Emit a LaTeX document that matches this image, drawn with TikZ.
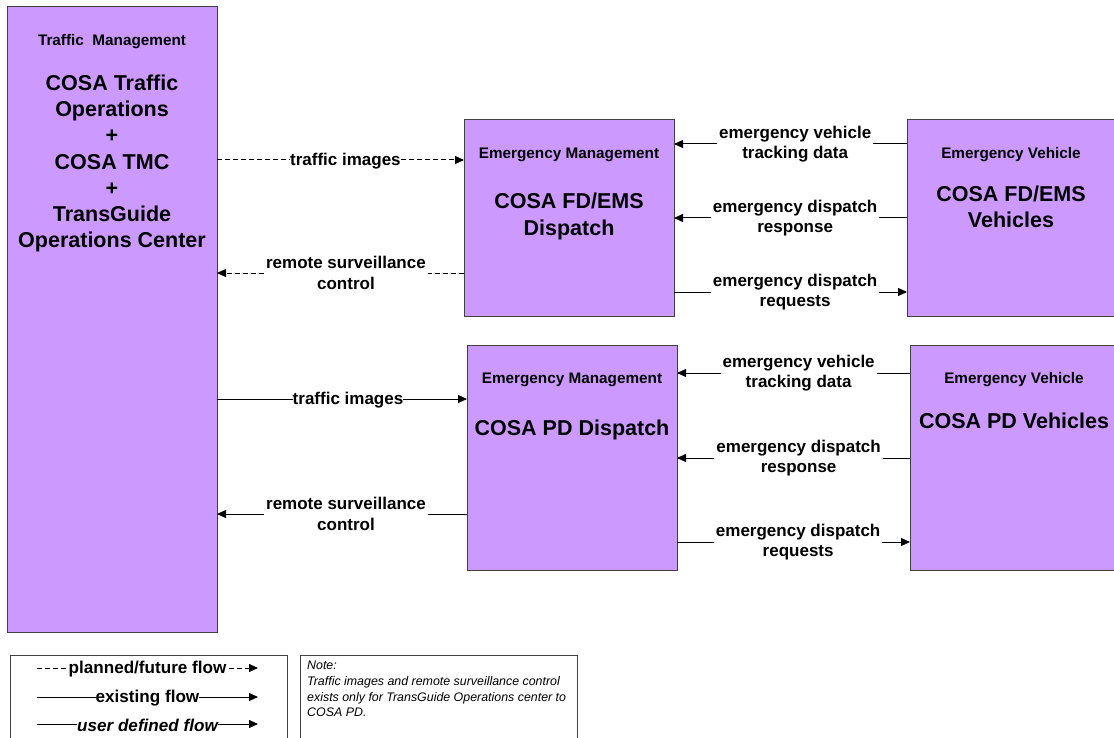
\documentclass[tikz,border=0pt]{standalone}
\usepackage{fontspec}
\setmainfont{Liberation Sans}
\usetikzlibrary{arrows.meta}
\definecolor{boxfill}{HTML}{CC99FF}
\definecolor{boxline}{HTML}{404040}
\newcommand{\lblfont}{\fontsize{17}{20.5}\selectfont\bfseries}
\newcommand{\legfont}{\fontsize{17.1}{19}\selectfont\bfseries}
\newcommand{\bigfont}{\fontsize{21.5}{26.3}\selectfont\bfseries}
\newcommand{\ttlfont}{\fontsize{15.3}{18}\selectfont\bfseries}
\newcommand{\notefont}{\fontsize{12.4}{15.7}\selectfont\itshape}
\begin{document}
\begin{tikzpicture}[x=1pt,y=-1pt,
  box/.style={draw=boxline,fill=boxfill,line width=1pt,inner sep=0pt,outer sep=0pt,anchor=north west},
  wbox/.style={draw=boxline,fill=white,line width=0.8pt,inner sep=0pt,outer sep=0pt,anchor=north west},
  arr/.style={line width=1pt,-{Triangle[length=9pt,width=8pt]}},
  plan/.style={arr,dash pattern=on 5pt off 3pt},
  lab/.style={fill=white,font=\lblfont,align=center,inner xsep=2pt,inner ysep=1pt},
  tight/.style={lab,inner xsep=0pt,yshift=-1.5pt},
  ttl/.style={font=\ttlfont,inner sep=0pt,yshift=-2pt},
  big/.style={font=\bigfont,align=center,inner sep=0pt,yshift=-2.5pt}]
\useasboundingbox (0,0) rectangle (1114,738);
\fill[white] (0,0) rectangle (1114,738);

% boxes
\node[box,minimum width=210pt,minimum height=625pt] (tm) at (7,7) {};
\node[box,minimum width=210pt,minimum height=196pt] (fdd) at (464,120) {};
\node[box,minimum width=215pt,minimum height=196pt] (fdv) at (907,120) {};
\node[box,minimum width=210pt,minimum height=225pt] (pdd) at (467,345) {};
\node[box,minimum width=212pt,minimum height=225pt] (pdv) at (910,345) {};

% box texts
\node[ttl] (tmt) at (112,40) {Traffic\ \ Management};
\node[big] (tmn) at (112,161) {COSA Traffic\\Operations\\+\\COSA TMC\\+\\TransGuide\\Operations Center};
\node[ttl] (fddt) at (569,153) {Emergency Management};
\node[big] (fddn) at (569,214) {COSA FD/EMS\\Dispatch};
\node[ttl] (fdvt) at (1011,153) {Emergency Vehicle};
\node[big] (fdvn) at (1011,204) {COSA FD/EMS\\Vehicles};
\node[ttl] (pddt) at (572,378) {Emergency Management};
\node[big] (pddn) at (572,427) {COSA PD Dispatch};
\node[ttl] (pdvt) at (1014,378) {Emergency Vehicle};
\node[big] (pdvn) at (1014,418) {COSA PD Vehicles};

% connectors FD
\draw[plan] (tm.east|-0,160) -- (fdd.west|-0,160) node[tight,pos=0.52] {traffic images};
\draw[plan] (fdd.west|-0,273) -- (tm.east|-0,273) node[lab,pos=0.478] {remote surveillance\\control};
\draw[arr] (fdv.west|-0,144) -- (fdd.east|-0,144) node[lab,pos=0.48] {emergency vehicle\\tracking data};
\draw[arr] (fdv.west|-0,218) -- (fdd.east|-0,218) node[lab,pos=0.48] {emergency dispatch\\response};
\draw[arr] (fdd.east|-0,292) -- (fdv.west|-0,292) node[lab,pos=0.52] {emergency dispatch\\requests};

% connectors PD
\draw[arr] (tm.east|-0,399) -- (pdd.west|-0,399) node[tight,pos=0.524] {traffic images};
\draw[arr] (pdd.west|-0,514) -- (tm.east|-0,514) node[lab,pos=0.484] {remote surveillance\\control};
\draw[arr] (pdv.west|-0,373) -- (pdd.east|-0,373) node[lab,pos=0.478] {emergency vehicle\\tracking data};
\draw[arr] (pdv.west|-0,458) -- (pdd.east|-0,458) node[lab,pos=0.478] {emergency dispatch\\response};
\draw[arr] (pdd.east|-0,542) -- (pdv.west|-0,542) node[lab,pos=0.52] {emergency dispatch\\requests};

% legend
\node[wbox,minimum width=277pt,minimum height=95pt] (leg) at (10,655) {};
\coordinate (l1a) at (37,668); \coordinate (l1b) at (258,668);
\coordinate (l2a) at (37,697); \coordinate (l2b) at (258,697);
\coordinate (l3a) at (37,724); \coordinate (l3b) at (258,724);
\draw[plan] (l1a) -- (l1b) node[tight,midway,font=\legfont] {planned/future flow};
\draw[arr] (l2a) -- (l2b) node[tight,midway,font=\legfont] {existing flow};
\draw[arr] (l3a) -- (l3b) node[tight,midway,font=\legfont\itshape] {user defined flow};

% note
\node[wbox,minimum width=277pt,minimum height=95pt] (note) at (300,655) {};
\node[anchor=north west,align=left,inner sep=0pt,font=\notefont] (notet) at (307,661)
  {Note:\\Traffic images and remote surveillance control\\exists only for TransGuide Operations center to\\COSA PD.};
\end{tikzpicture}
\end{document}
